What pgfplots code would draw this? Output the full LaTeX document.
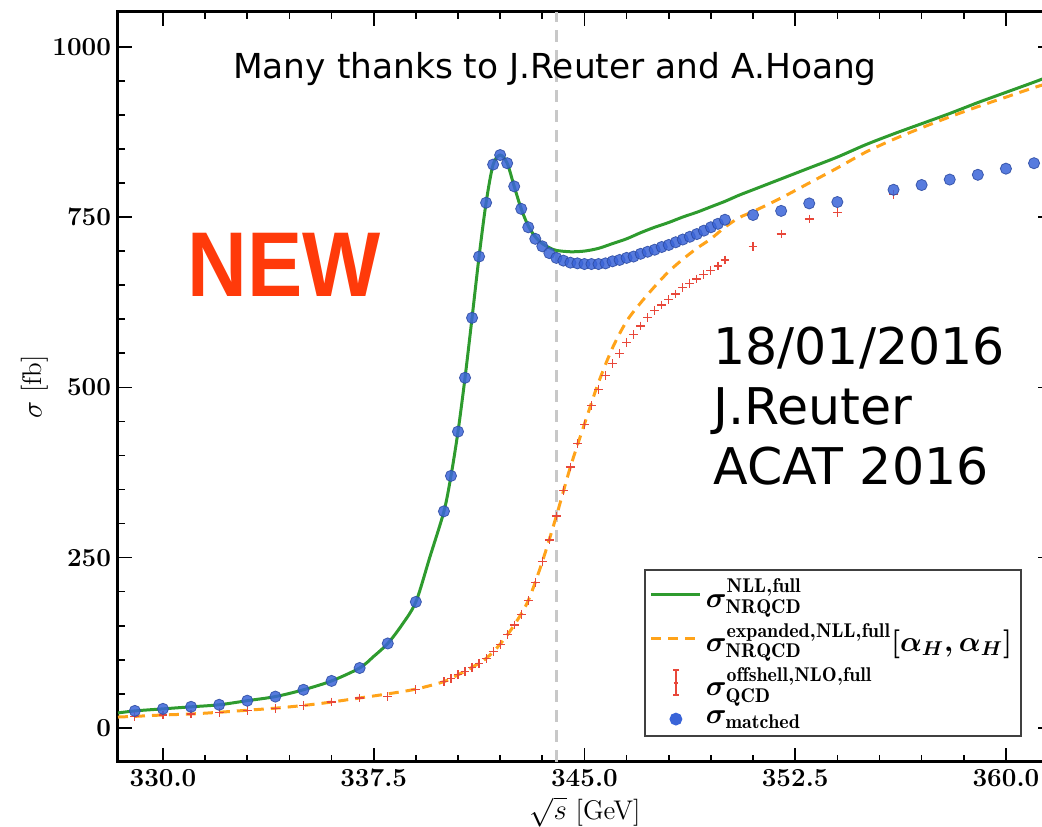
\documentclass[border=0pt]{standalone}
\usepackage{pgfplots}
\pgfplotsset{compat=1.18}
\usepackage{fontspec}
\newfontfamily\slidefont{DejaVu Sans}
\newfontfamily\stampfont[FakeStretch=0.9]{Liberation Sans}

\definecolor{nllgreen}{HTML}{2E9B2E}
\definecolor{exporange}{HTML}{FFA31A}
\definecolor{nlored}{HTML}{E8473A}
\definecolor{matchblue}{HTML}{3A64D8}
\definecolor{stampred}{HTML}{FF3A0A}
\definecolor{thrgray}{HTML}{C8C8C8}

% NRQCD NLL resummed cross section
\pgfplotstableread{
x y
328.4 22
329 25
330 28
331 31
332 34
333 40
334 46
335 56
336 69
337 88
337.5 105
338 124
338.5 151
339 185
339.5 251
340 318
340.25 370
340.5 435
340.75 514
341 602
341.25 692
341.5 771
341.75 827
342 841
342.25 829
342.5 795
342.75 762
343 737
343.25 721
343.5 711
343.75 705
344 701
344.5 699
345 700
345.5 704
346 711
346.5 718
347 727
347.5 735
348 742
348.5 750
349 757
349.5 765
350 773
350.5 782
351 790
352 806
353 822
354 838
355 856
356 872
357 887
358 902
359 918
360 933
361 948
361.64 958
}\nlltab

% expanded NRQCD
\pgfplotstableread{
x y
328.4 16
329 17
330 19
331 20.5
332 23
333 26
334 29
335 33
336 38
337 44
338 50
339 57
340 68
340.5 78
341 89
341.5 102
342 123
342.5 151
343 187
343.5 244
344 311
344.5 383
345 446
345.5 507
346 558
346.5 597
347 624
347.5 648
348 670
348.5 688
349 704
349.5 718
350 735
350.5 749
351 758
352 778
353 800
354 822
355 845
356 864
357 881
358 897
359 912
360 926
361 940
361.64 948
}\exptab

% off-shell NLO QCD
\pgfplotstableread{
x y
329 17
330 19
331 20.5
332 23
333 26
334 29
335 33
336 38
337 44
338 46
339 56
340 68
340.25 72
340.5 78
340.75 83
341 89
341.25 95
341.5 102
341.75 112
342 123
342.25 137
342.5 151
342.75 167
343 187
343.25 214
343.5 244
343.75 276
344 311
344.25 348
344.5 383
344.75 417
345 446
345.25 473
345.5 497
345.75 517
346 535
346.25 550
346.5 566
346.75 577
347 590
347.25 602
347.5 613
347.75 621
348 629
348.25 637
348.5 646
348.75 653
349 659
349.25 666
349.5 672
349.75 678
350 687
351 707
352 725
353 747
354 757
356 783
}\nlotab

% matched prediction
\pgfplotstableread{
x y
329 25
330 28
331 31
332 34
333 40
334 46
335 56
336 69
337 88
338 124
339 185
340 318
340.25 370
340.5 435
340.75 514
341 602
341.25 692
341.5 771
341.75 827
342 841
342.25 829
342.5 795
342.75 762
343 735
343.25 718
343.5 707
343.75 697
344 690
344.25 686
344.5 683
344.75 682
345 681
345.25 681
345.5 681
345.75 682
346 685
346.25 687
346.5 690
346.75 692
347 696
347.25 699
347.5 702
347.75 706
348 709
348.25 713
348.5 717
348.75 721
349 725
349.25 730
349.5 735
349.75 740
350 746
351 753
352 759
353 770
354 772
356 790
357 797
358 805
359 812
360 821
361 829
}\matchtab

\pgfplotsset{
  greenlegend/.style={legend image code/.code={
    \draw[nllgreen, line width=1.5pt] (0cm,0cm) -- (0.86cm,0cm);}},
  orangelegend/.style={legend image code/.code={
    \draw[exporange, line width=1.5pt, dash pattern=on 5pt off 3.5pt] (0cm,0cm) -- (0.86cm,0cm);}},
  redlegend/.style={legend image code/.code={
    \draw[nlored, line width=0.9pt] (0.43cm,-0.22cm) -- (0.43cm,0.22cm);
    \draw[nlored, line width=0.9pt] (0.38cm,0.22cm) -- (0.48cm,0.22cm)
      (0.38cm,-0.22cm) -- (0.48cm,-0.22cm) (0.39cm,0cm) -- (0.47cm,0cm);}},
  bluelegend/.style={legend image code/.code={
    \fill[matchblue] (0.43cm,0cm) circle (2.8pt);}},
}

\begin{document}
\begin{tikzpicture}
\begin{axis}[
  scale only axis,
  width=467pt, height=375pt,
  xmin=328.4, xmax=361.64, ymin=-50, ymax=1051,
  xtick={330,337.5,345,352.5,360},
  xticklabels={330.0,337.5,345.0,352.5,360.0},
  ytick={0,250,500,750,1000},
  yticklabels={0,250,500,750,1000},
  minor x tick num=4, minor y tick num=4,
  tick align=inside,
  major tick length=7pt, minor tick length=3.5pt,
  every tick/.style={black, line width=0.8pt},
  axis line style={line width=1.5pt},
  tick label style={font=\fontsize{13}{15}\selectfont\bfseries},
  label style={font=\fontsize{13.5}{15}\selectfont},
  xlabel={$\sqrt{s}$ [GeV]},
  ylabel={$\sigma$ [fb]},
  xlabel style={at={(axis description cs:0.5,0)}, anchor=center, yshift=-25pt},
  ylabel style={at={(axis description cs:0,0.5)}, anchor=center, yshift=41.5pt},
  legend style={at={(axis cs:360.57,-13)}, anchor=south east,
    draw=black!75, line width=0.8pt,
    font=\fontsize{14.2}{16}\selectfont\boldmath,
    cells={anchor=west}, inner sep=2.5pt, row sep=2.5pt},
]
\addplot[thrgray, line width=1.4pt, dash pattern=on 6pt off 4pt, forget plot]
  coordinates {(344,-50) (344,1051)};

\addplot[nllgreen, line width=1.5pt, no marks, smooth, greenlegend]
  table[x=x,y=y]{\nlltab};
\addlegendentry{$\sigma^{\mathrm{NLL,full}}_{\mathrm{NRQCD}}$}

\addplot[exporange, line width=1.5pt, no marks, smooth, dash pattern=on 5pt off 3.5pt, orangelegend]
  table[x=x,y=y]{\exptab};
\addlegendentry{$\sigma^{\mathrm{expanded,NLL,full}}_{\mathrm{NRQCD}}[\alpha_H,\alpha_H]$}

\addplot[only marks, mark=+, mark size=2.2pt, nlored, line width=0.6pt, redlegend]
  table[x=x,y=y]{\nlotab};
\addlegendentry{$\sigma^{\mathrm{offshell,NLO,full}}_{\mathrm{QCD}}$}

\addplot[only marks, mark=*, mark size=2.8pt,
  mark options={fill=matchblue, draw=matchblue!75!black, line width=0.4pt, opacity=0.85},
  bluelegend]
  table[x=x,y=y]{\matchtab};
\addlegendentry{$\sigma_{\mathrm{matched}}$}

\node[anchor=base, font=\slidefont\fontsize{17.2}{20}\selectfont, inner sep=0pt]
  at (axis cs:343.95,953) {Many thanks to J.Reuter and A.Hoang};
\node[anchor=base west, font=\stampfont\bfseries\fontsize{46}{50}\selectfont,
  text=stampred, inner sep=0pt]
  at (axis cs:330.85,633) {NEW};
\node[anchor=base west, font=\slidefont\fontsize{25.3}{30}\selectfont, inner sep=0pt]
  at (axis cs:349.57,533) {18/01/2016};
\node[anchor=base west, font=\slidefont\fontsize{25.3}{30}\selectfont, inner sep=0pt]
  at (axis cs:349.57,445) {J.Reuter};
\node[anchor=base west, font=\slidefont\fontsize{25.3}{30}\selectfont, inner sep=0pt]
  at (axis cs:349.57,358) {ACAT 2016};
\end{axis}
\pgfresetboundingbox
\path[use as bounding box]
  ([xshift=-59pt,yshift=-32.5pt]current axis.south west)
  rectangle ([xshift=-5pt,yshift=6pt]current axis.north east);
\end{tikzpicture}
\end{document}
